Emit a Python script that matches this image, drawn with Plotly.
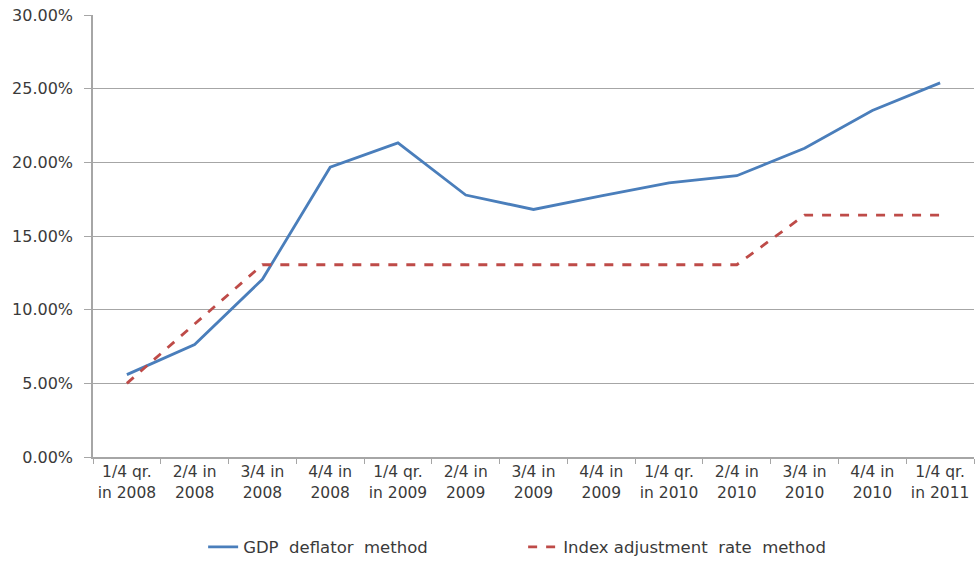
import plotly.graph_objects as go

categories = ["1/4 qr.<br>in 2008", "2/4 in<br>2008", "3/4 in<br>2008", "4/4 in<br>2008",
              "1/4 qr.<br>in 2009", "2/4 in<br>2009", "3/4 in<br>2009", "4/4 in<br>2009",
              "1/4 qr.<br>in 2010", "2/4 in<br>2010", "3/4 in<br>2010", "4/4 in<br>2010",
              "1/4 qr.<br>in 2011"]
gdp_deflator = [0.0559, 0.0763, 0.1206, 0.1967, 0.2132, 0.1778, 0.1680, 0.1773,
                0.1860, 0.1909, 0.2096, 0.2352, 0.2539]
index_adjust = [0.050, 0.090, 0.1305, 0.1305, 0.1305, 0.1305, 0.1305, 0.1305,
                0.1305, 0.1305, 0.1642, 0.1642, 0.1642]
series_names = ["GDP\u00a0 deflator\u00a0 method", "Index\u00a0adjustment\u00a0 rate\u00a0 method"]

font_family = "DejaVu Sans, Noto Sans, sans-serif"
text_color = "#3a3a3a"
grid_color = "#a6a6a6"

fig = go.Figure()
fig.add_trace(go.Scatter(x=categories, y=gdp_deflator, mode="lines",
                         name=series_names[0],
                         line=dict(color="#4A7EBB", width=2.8)))
fig.add_trace(go.Scatter(x=categories, y=index_adjust, mode="lines",
                         name=series_names[1],
                         line=dict(color="#BE4B48", width=2.8, dash="dash")))

fig.update_layout(
    width=978, height=576,
    margin=dict(l=93, r=4, t=15, b=119),
    paper_bgcolor="white", plot_bgcolor="white",
    font=dict(family=font_family, size=14, color=text_color),
    legend=dict(orientation="h", x=0.125, xanchor="left",
                yref="container", y=0.05, yanchor="middle",
                entrywidth=275, entrywidthmode="pixels",
                font=dict(size=16.5, color=text_color)),
    showlegend=True,
)
fig.update_xaxes(type="category", range=[-0.5, len(categories) - 0.5],
                 tickson="boundaries", ticks="outside",
                 ticklen=5, tickcolor=grid_color, showline=True,
                 linecolor=grid_color, linewidth=1.5, showgrid=False,
                 tickfont=dict(size=15.5, color=text_color), tickangle=0)
fig.update_yaxes(range=[0, 0.30], dtick=0.05, tickformat=".2%",
                 ticks="outside", ticklen=7, tickcolor=grid_color,
                 ticklabelstandoff=8,
                 showline=True, linecolor=grid_color, linewidth=1.5,
                 showgrid=True, gridcolor=grid_color, gridwidth=1.2,
                 zeroline=False, tickfont=dict(size=16, color=text_color))

fig.write_html("out.html")
